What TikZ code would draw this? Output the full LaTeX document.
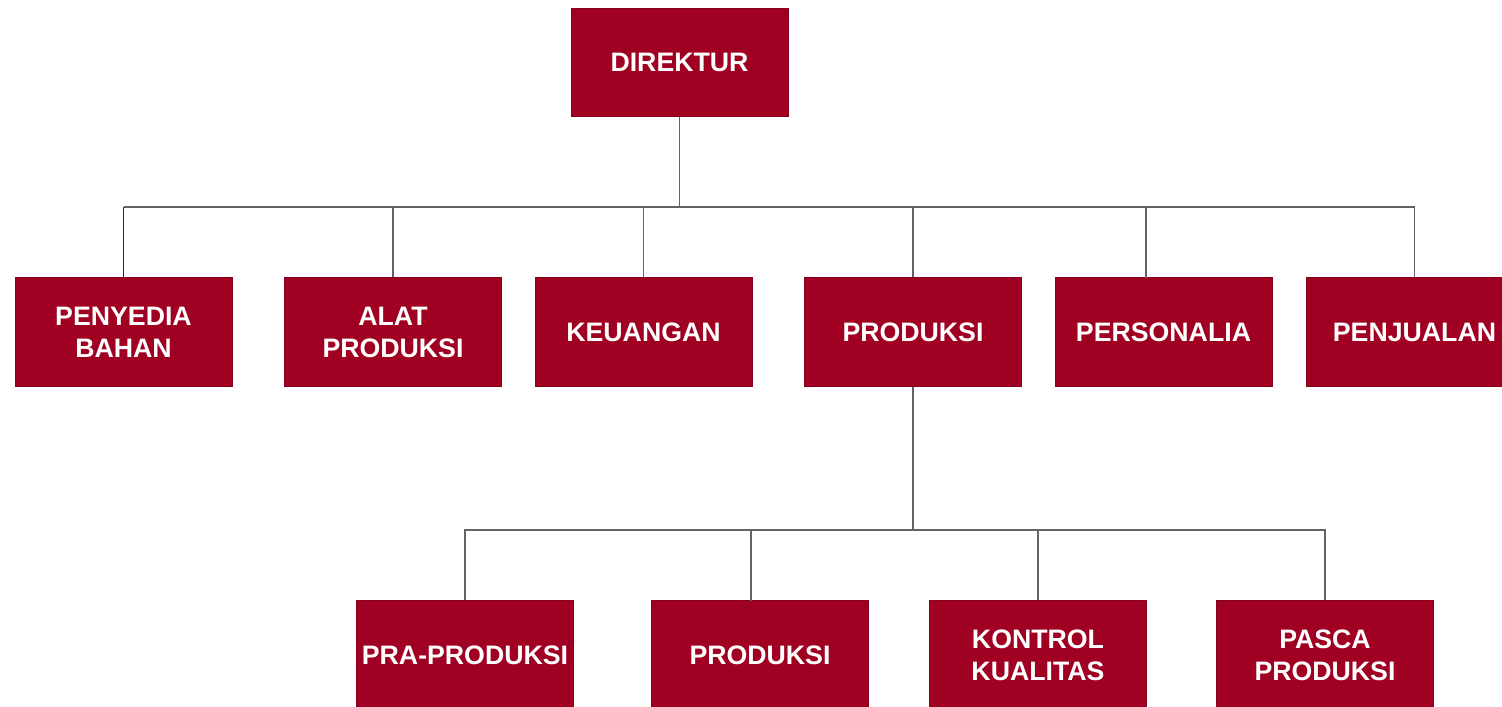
\documentclass[tikz,border=0pt]{standalone}
\usepackage{fontspec}
\setmainfont{Liberation Sans}
\definecolor{boxred}{RGB}{160,0,34}
\definecolor{linegray}{RGB}{100,100,100}

\begin{document}
\begin{tikzpicture}[
  x=0.02cm, y=-0.02cm,
  every node/.style={draw=boxred!85!black, line width=0.4pt, fill=boxred, text=white, minimum width=4.34cm, minimum height=2.17cm, inner sep=0pt, align=center, font=\fontsize{15.2}{18.2}\selectfont\bfseries},
  line/.style={draw=linegray, line width=1.1pt}
]
\useasboundingbox (0,0) rectangle (1502,707);
\clip (0,0) rectangle (1502,707);

\node (direktur) at (679.5,62.5) {DIREKTUR};

\node (penyedia) at (123.5,332) {PENYEDIA\\BAHAN};
\node (alat) at (393,332) {ALAT\\PRODUKSI};
\node (keuangan) at (643.5,332) {KEUANGAN};
\node (produksi) at (913,332) {PRODUKSI};
\node (personalia) at (1163.5,332) {PERSONALIA};
\node (penjualan) at (1414.5,332) {PENJUALAN};

\node (praprod) at (465,655) {PRA-PRODUKSI};
\node (prod) at (760,655) {PRODUKSI};
\node (kontrol) at (1038,655) {KONTROL\\KUALITAS};
\node (pasca) at (1325,655) {PASCA\\PRODUKSI};

\coordinate (busA) at (679,207);
\coordinate (persTop) at (1146,278);
\coordinate (busB) at (912,530);
\coordinate (prodTop) at (751,601);

\draw[line] (direktur.south) -- (direktur.south |- busA);
\draw[line] (penyedia.north |- busA) -| (penjualan.north);
\draw[draw=boxred!75!black, line width=0.8pt] (penyedia.north) -- (penyedia.north |- busA);
\draw[line] (alat.north) -- (alat.north |- busA);
\draw[line] (keuangan.north) -- (keuangan.north |- busA);
\draw[line] (produksi.north) -- (produksi.north |- busA);
\draw[line] (persTop) -- (persTop |- busA);

\draw[line] (produksi.south) -- (produksi.south |- busB);
\draw[line] (praprod.north) |- (busB) -| (pasca.north);
\draw[line] (prodTop) -- (prodTop |- busB);
\draw[line] (kontrol.north) -- (kontrol.north |- busB);

\end{tikzpicture}
\end{document}
